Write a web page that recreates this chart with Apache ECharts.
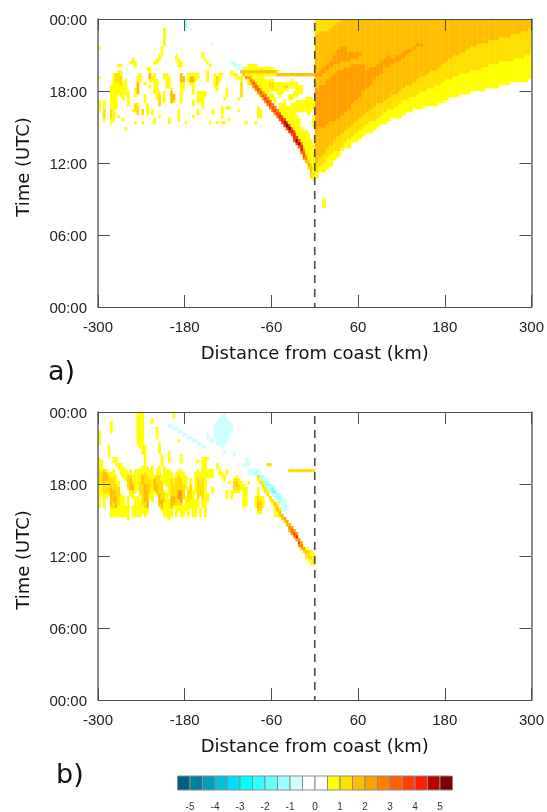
<!DOCTYPE html>
<html><head><meta charset="utf-8">
<style>html,body{margin:0;padding:0;background:#fff}#c{width:547px;height:812px}</style>
<script src="https://cdn.jsdelivr.net/npm/echarts@6/dist/echarts.min.js"></script></head>
<body><div id="c"></div>
<script>
const legendValues=[-5.25,-4.75,-4.25,-3.75,-3.25,-2.75,-2.25,-1.75,-1.25,-0.75,-0.25,0.25,0.75,1.25,1.75,2.25,2.75,3.25,3.75,4.25,4.75,5.25];
const legendColors=['#005f83','#007fa3','#009fbf','#00bfdf','#00dfff','#00ffff','#33ffff','#66ffff','#99ffff','#ccffff','#ffffff','#ffffff','#ffff00','#ffdf00','#ffbf00','#ff9f00','#ff7f00','#ff5f00','#ff3f00','#ff1f00','#bf0000','#7f0000'];

// Panel a, land side: onset time (h) of each level, one per 5 km column from 0 to 295 km
const aOnset075=[10.75,11.25,11.25,11.5,11.75,12.25,12.5,13,13.25,13.25,13.75,13.75,14,14.25,14.5,14.5,14.75,15,15.25,15.25,15.5,15.75,15.75,15.75,16,16.25,16.25,16.5,16.5,16.5,16.75,16.75,16.75,16.75,17,17,17.25,17.5,17.5,17.5,17.75,17.75,17.75,18,18,18,18,18.25,18.25,18.25,18.25,18.5,18.5,18.5,18.75,18.75,18.75,18.75,18.75,19];
const aOnset125=[11.25,11.75,12,12.5,12.75,13,13,13.25,13.75,14,14.25,14.5,14.75,15,15.25,15.5,15.5,15.75,16,16.25,16.5,16.5,16.75,17,17.25,17.25,17.5,17.5,17.75,18,18,18.25,18.25,18.5,18.5,18.75,19,19,19.25,19.25,19.5,19.5,19.5,19.75,19.75,19.75,20,20,20.25,20.25,20.25,20.5,20.5,20.5,20.5,20.75,20.75,20.75,21,21];
const aOnset175=[12,12.5,12.75,13.25,13.5,14,14.25,14.5,14.75,15,15.25,15.5,15.75,16,16.25,16.5,16.75,17,17,17.25,17.5,17.75,17.75,18,18.25,18.5,18.5,18.75,19,19.25,19.25,19.5,19.75,19.75,20,20.25,20.5,20.75,21,21,21.25,21.25,21.5,21.75,21.75,22,22,22,22.25,22.25,22.25,22.5,22.5,22.5,22.75,22.75,22.75,23,23,23.25];
// land runs: [km, t start, t end]
const aEastGold=[[0,22.75,24],[5,23,24],[10,23,24],[15,23,24],[20,23.25,24],[25,23.5,24],[30,23.75,24]];
const aEastOrange=[[0,14.75,18.25],[5,15,18.5],[10,15,18.5],[15,15.25,19],[20,15.5,19.25],[25,15.5,19.5],[30,15.75,19.75],[35,16,19.75],[40,16.25,20],[45,16.5,20],[50,17,20.25],[55,17.25,20.25],[60,17.5,20.25],[65,18,20.25],[70,18.25,19.75],[75,18.5,20],[80,19,20],[85,19.25,20.25],[90,19.5,20.5],[95,20,20.75],[100,20,21],[105,20.25,20.75],[110,20.5,21],[115,20.5,21],[120,20.75,21.25],[125,21,21.5],[130,21.25,21.5],[135,21.5,21.75],[140,21.75,22],[145,21.75,22],
 [0,19.25,19.5],[5,19.25,19.75],[10,19.5,20],[15,19.75,20.25],[20,20,20.5],[25,20.25,21],[30,20.25,21.5],[35,20.5,21.75],[40,20.5,21.75],[45,20.5,21.25],[50,20.75,21.25],[55,20.75,21.25],[60,21,21.25]];
const aEastSpeck=[[10,8.25,9]];

// Sea side runs: [column k of 10/3 km from -300 km, t start, t end]
const aSea075=[[0,16.25,17.25],[0,21.5,21.75],[0,19,19.25],[2,15.75,17.25],[2,15.5,15.75],[5,15.25,18.5],[6,15.5,19.5],[7,16.5,19.5],[8,17.75,19.75],[8,15.75,16],[8,20,20.25],[9,17.5,19.75],[9,20,20.25],[10,17.25,18.75],[10,15.5,15.75],[11,17.75,19],[11,14.75,15],[12,16.75,18],[13,20.25,20.5],[14,16.25,16.5],[14,20.25,20.75],[15,17.5,18.25],[15,15.25,15.5],[15,20,20.5],[16,17.75,19.25],[16,16,17],[17,18.75,19.5],[18,16,16.5],[18,15.25,15.5],[19,17,17.75],[19,18.5,18.75],[20,16,17],[20,19.75,20],[21,18.75,20],[21,18.25,18.5],[22,18.75,19.25],[22,16,16.5],[23,17.75,19.5],[23,15.25,15.75],[23,20.25,20.5],[24,17.25,19],[24,20.25,20.75],[25,16.75,18],[25,15.75,16],[25,20.5,21],[26,21,21.75],[27,17,18],[27,19,19.5],[27,21.75,23.25],[28,18.25,19.5],[29,18.25,19.25],[29,15.25,15.75],[30,17.25,18.25],[31,17,17.75],[32,20.5,21],[33,20,20.75],[33,15.5,16.5],[34,17,19.5],[34,20,20.5],[35,18,19.25],[36,15.25,15.5],[37,18.75,19.5],[38,18.5,19.5],[39,17.75,19.5],[39,16.75,17.25],[39,15.75,16],[40,18.75,19.5],[41,17,18],[41,19,19.5],[41,16,16.5],[42,17,18],[43,16.5,18],[43,20.75,21.25],[44,17.5,18],[44,20.5,20.75],[45,18.75,19.75],[45,20.25,20.5],[46,15.25,15.5],[46,20,20.25],[47,16,16.5],[48,18.25,19.5],[49,18,19.25],[49,15.25,15.5],[50,18.75,19.5],[51,15.75,16.75],[51,15.25,15.5],[51,19.25,19.5],[52,17.25,17.5],[52,15.25,15.5],[53,17.5,18.25],[53,16.5,16.75],[54,16.5,16.75],[54,15.5,15.75],[55,19.25,19.75],[56,19.25,19.5],[57,19,19.5],[58,17.25,17.5],[58,16.25,16.5],[58,19,19.25],[59,17.5,19.25],[61,15.25,15.5],[65,15.25,15.5],[66,15.75,16.75],[67,15.75,16.5]];
const aFan075=[[60,19.25,20],[61,19.25,20],[62,18.5,20.25],[63,18.75,20.25],[64,18.75,20.25],[65,18.5,20.25],[66,18.25,20],[67,18,20],[68,18,20],[69,17.75,19],[69,19.25,20],[70,17.5,19],[70,19.25,20],[71,18,19],[71,19.25,20],[71,17.25,17.75],[72,18,19],[72,19.25,20],[72,17.25,17.75],[73,18,18.75],[73,19.25,19.75],[73,17,17.5],[74,17.75,18.75],[74,19.25,19.75],[75,17.5,18.75],[75,16,17],[76,17.75,18.75],[76,15.75,17],[77,18,18.75],[77,15.5,17.25],[78,18,18.75],[78,15.25,16.75],[79,18.25,18.75],[79,17.25,17.75],[79,15,16.75],[80,18.25,19],[80,17.25,17.75],[80,14.75,17],[81,18.25,18.75],[81,17.5,18],[81,16.25,17],[81,14.5,16.25],[82,18.25,18.75],[82,17.5,18.25],[82,16.25,17.25],[82,14.25,16],[83,17.75,18.5],[83,16.25,17.25],[83,14,15.75],[84,17.75,18.5],[84,16.25,17.25],[84,13.5,15],[85,16.25,17.25],[85,12.75,14.75],[86,16.25,17.5],[86,12.25,14.75],[87,16,17.5],[87,11.75,14.5],[88,16.25,17.5],[88,11.25,14],[89,16.5,17.25],[89,15,16],[89,10.5,13.5]];
const aSea125=[[2,15.75,16.5],[5,15.75,16.5],[7,18.75,19.5],[8,18.75,19.5],[9,18.5,19.25],[15,16.25,17],[16,16,16.75],[18,16,16.5],[25,16.75,17.75],[49,18.5,19.25],[59,17.5,18.75],[71,18.25,18.75],[72,18.25,18.75],[77,18.25,18.5],[78,18.25,18.5]];
const aSea175=[[16,17.75,18.75],[21,19,19.5],[30,17,18],[31,17.25,17.75],[34,18.75,19.5],[35,18.75,19.25],[38,18.75,19.25],[39,18.75,19.25]];
const aBand175=[[60,19.5,19.75],[61,19.5,19.75],[62,19.5,19.75],[63,19.5,19.75],[64,19.5,19.75],[65,19.5,19.75],[66,19.5,19.75],[67,19.5,19.75],[68,19.5,19.75],[69,19.5,19.75],[70,19.5,19.75],[71,19.5,19.75],[72,19.5,19.75],[73,19.5,19.75],[74,19.25,19.5],[75,19.25,19.5],[76,19.25,19.5],[77,19.25,19.5],[78,19.25,19.5],[79,19.25,19.5],[80,19.25,19.5],[81,19.25,19.5],[82,19.25,19.5],[83,19.25,19.5],[84,19.25,19.5],[85,19.25,19.5],[86,19.25,19.5],[87,19.25,19.5],[88,19.25,19.5],[89,19.25,19.5]];
// [k, t start, t end, value]
const aFrontHalo=[[63,18.5,19.25,1.75],[64,18.25,19,2.25],[65,18,18.75,2.25],[66,17.75,18.5,2.25],[67,17.5,18.25,2.25],[68,17.25,18,2.25],[69,17,17.75,2.75],[70,16.75,17.5,2.75],[71,16.5,17.25,2.75],[72,16.25,17,2.75],[73,16,16.75,2.75],[74,15.75,16.5,2.75],[75,15.5,16.25,3.25],[76,15.25,16,3.25],[77,15,15.75,3.75],[78,14.75,15.5,3.75],[79,14.5,15.25,3.75],[80,14.25,15,3.25],[81,13.75,14.75,3.25],[82,13.5,14.25,3.75],[83,13.25,14,3.25],[84,12.75,13.75,2.75],[85,12.25,13.25,2.25],[86,12,12.75,1.75],[87,11.5,12.25,1.25],[88,10.75,12,1.25],[89,10.75,11.5,0.75]];
const aFrontCore=[[59,19.5,19.75,1.75],[60,19.25,19.5,1.75],[61,19,19.25,2.25],[62,19,19.25,2.25],[63,18.75,19,2.75],[64,18.5,18.75,3.25],[65,18.25,18.5,3.25],[66,18,18.25,3.25],[67,17.75,18,3.25],[68,17.5,17.75,3.25],[69,17.25,17.5,3.75],[70,17,17.25,3.75],[71,16.75,17,3.75],[72,16.5,16.75,3.75],[73,16.25,16.5,3.75],[74,16,16.25,3.75],[75,15.75,16,4.25],[76,15.5,15.75,4.25],[77,15.25,15.5,4.75],[78,15,15.25,5.25],[79,14.75,15,5.25],[80,14.5,14.75,4.25],[81,14,14.5,4.25],[82,13.75,14,5.25],[83,13.5,13.75,4.75],[84,13,13.5,4.25],[85,12.5,13,3.25],[86,12.25,12.5,2.75],[87,11.75,12,2.25],[88,11.25,11.75,1.75],[89,11,11.25,1.25]];
const aCyan=[[36,23.25,24,-1.25],[35,23.75,24,-0.75],[38,23,23.25,-0.75],[47,21.75,22,-0.75],[55,20.25,20.5,-0.75],[56,20,20.5,-0.75],[57,20,20.25,-0.75],[58,19.75,20.25,-0.75],[59,19.75,20,-0.75]];

// Panel b
const bSea075=[[0,21.25,22.5],[0,16,20.25],[1,17,20],[2,16,19.25],[3,16.75,19.25],[4,20.25,21.25],[4,17,19],[5,22.25,23.25],[5,15.25,19],[6,15.25,19.25],[6,19.75,20.25],[7,15.25,18.75],[7,19.5,20.25],[8,15.25,18.25],[8,19.25,19.75],[9,15.25,17.25],[9,18.75,19.75],[10,15.25,17],[10,18.5,19.5],[11,15.25,16.25],[11,18.25,19.25],[12,17.5,19],[12,15,17],[13,17,19.25],[14,16.75,18.75],[14,15.25,16.25],[15,17.25,19.25],[15,15.25,17],[16,21.25,24],[16,17.5,19.25],[16,15.25,17],[17,21,24],[17,17,19.25],[17,15.25,16.75],[18,20.5,24],[18,15.5,19.5],[19,19.5,21.25],[19,15.25,19.5],[20,15.5,19.5],[21,16.75,19.25],[22,23,23.5],[22,16.5,19.5],[23,17.25,18.75],[24,21.75,22.75],[24,17,19.25],[25,20.5,21.5],[25,16,19.5],[26,19.5,20.5],[26,15.75,18.75],[27,18,19.5],[27,15.25,17.5],[28,17.75,19.25],[28,15.25,17.25],[29,19.75,20.75],[29,17,19.25],[29,15,16.75],[30,16.5,19],[30,15.25,16.25],[31,23.5,24],[31,16,18.5],[32,15.25,19],[33,21.5,21.75],[33,15.75,19.25],[34,19.75,20.5],[34,15.25,19.25],[35,16.75,19],[35,15.25,16.25],[36,17.5,18.75],[36,15.75,17],[37,15.25,17.75],[38,16,18.5],[39,15.25,17.5],[40,17.25,19],[40,15.25,16.75],[41,19.75,20],[41,16,19.25],[42,17,19],[42,15.25,16],[43,16,19.75],[43,19.75,20.25],[44,15.25,20.25],
 [45,16.5,17.25],[45,18.5,19.25],[45,20,20.25],[46,18.5,19.25],[47,17.25,17.75],[47,18.5,19.25],[49,19.25,19.75],[50,18.75,19.25],[51,18.5,19],[52,18.25,18.75],[53,18.75,19.25],[53,16.75,17.5],[54,18,18.25],[55,16.75,17.5],[56,17.25,18.5],[57,17.25,18.75],[58,17.25,18.5],[59,17.5,18.25],[60,16,18],[61,16.25,17.75],[62,18,18.25],[65,16,17],[66,15.5,17.75],[67,15.5,17],[68,16,17],[73,15.25,16.5],[74,15.25,16.5],[85,12.5,12.75],[86,11.75,12.75],[87,11.5,12.5],[88,11.25,12.5],[89,11.25,12.25]];
const bSea125=[[0,18,19.25],[1,18,19],[2,17.25,19.25],[3,17.25,19],[4,17.25,18.75],[5,16,18.5],[6,16,18.5],[7,16.25,18],[8,16.25,17.75],[12,17.75,18.75],[13,17.5,18.75],[14,17.25,18.25],[17,17.25,18.25],[18,16.25,18.75],[19,16,19],[20,16,18.75],[21,17.25,18.5],[24,17.5,18.75],[25,16.5,18.75],[26,16.25,18.25],[27,16.5,17.25],[30,16.5,18.5],[31,16.5,18],[32,16.25,18.5],[33,16.25,18.75],[34,16.25,18.5],[35,16.75,18],[37,16.5,17.5],[38,16.75,18],[41,16.75,18.5],[42,17,18.25],[43,16.75,18.5],[56,17.5,18.25],[57,17.5,18.5],[58,17.5,18],[66,15.75,17],[67,15.75,16.75],[70,19.5,19.75],[71,19.5,19.75],[79,19,19.25],[80,19,19.25],[81,19,19.25],[82,19,19.25],[83,19,19.25],[84,19,19.25],[85,19,19.25],[86,19,19.25],[87,19,19.25],[88,19,19.25],[89,19,19.25]];
const bSea175=[[2,18.25,19],[3,18.25,19],[5,16.25,17.75],[6,16.5,17.5],[7,16,17],[13,17.5,18.5],[14,17.5,18],[18,18,18.75],[19,16.5,18],[20,16,18],[23,17.5,18.5],[24,17.25,18],[25,16.25,17.25],[26,16,16.75],[30,16,17],[31,16.25,17],[57,17.75,18.25],[66,16,16.5],[67,16.25,16.5]];
const bSea225=[[33,16.75,17.5],[34,16.5,17.5]];
const bFrontHalo=[[66,18.25,18.75,0.75],[67,18,18.5,0.75],[68,17.5,18.25,0.75],[69,17.25,17.75,1.25],[70,17,17.5,0.75],[71,16.5,17,0.75],[72,16.25,16.75,0.75],[73,16,16.5,1.25],[74,15.75,16.25,1.25],[75,15.25,16,1.25],[76,15,15.5,1.25],[77,14.75,15.25,1.25],[78,14.5,15,1.75],[79,14,14.75,1.75],[80,13.75,14.5,2.25],[81,13.5,14.25,2.25],[82,13.25,14,2.25],[83,12.75,13.5,2.25],[84,12.5,13.25,1.75],[85,12.25,12.75,1.25],[86,12,12.5,1.25],[87,11.75,12.5,1.25]];
const bFrontCore=[[66,18.5,18.75,1.25],[67,18,18.25,1.25],[68,17.75,18,1.25],[69,17.5,17.75,1.25],[70,17,17.25,1.25],[71,16.75,17,1.25],[72,16.5,16.75,1.25],[73,16.25,16.5,1.75],[74,15.75,16,1.75],[75,15.5,15.75,1.75],[76,15.25,15.5,1.75],[77,15,15.25,2.25],[78,14.75,15,2.25],[79,14.25,14.5,2.75],[80,14,14.25,3.25],[81,13.75,14,3.75],[82,13.5,13.75,4.25],[83,13,13.25,3.75],[84,12.75,13,2.75],[85,12.5,12.75,2.25],[86,12.25,12.5,1.75],[87,12,12.25,1.25],[88,11.75,12,1.25],[89,11.5,11.75,1.25]];
const bCyan075=[[48,21.75,23],[49,21.25,23.25],[50,21.25,23.5],[51,21,23.75],[52,21.25,24],[53,21.5,23.5],[54,22,23.25],[55,22.25,23],[29,22.75,23],[30,22.75,23],[31,22.5,22.75],[32,22.5,22.75],[33,22.25,22.5],[34,22.25,22.5],[35,22,22.25],[36,22,22.25],[37,21.75,22],[38,21.75,22],[39,21.5,21.75],[40,21.5,21.75],[41,21.25,21.5],[42,21.25,21.5],[43,21,21.25],[44,21,21.25],[45,21.75,22.25],[46,21.5,21.75],[47,21.5,21.75],[52,20.5,20.75],[56,20.5,20.75],[56,20.25,20.5],[60,19.5,19.75],[61,19.5,20.25],[62,18.75,19.25],[62,19.5,20],[63,18.75,19.25],[64,18.75,19.25],[65,18.75,19.25],[66,18.5,19.25],[67,18.25,19],[68,18,18.75],[69,17.75,18.5],[70,17.5,18.5],[71,17.25,18],[72,17,18],[73,16.75,17.75],[74,16.75,17.5],[75,16.25,17.25],[76,16,17],[77,15.75,16.75],[78,15.75,16.25]];
const bCyan125=[[65,18.75,19],[67,18.5,18.75],[69,17.75,18.25],[70,17.75,18.25],[71,17.5,18],[74,16.75,17.25],[75,16.5,17]];
const bCyan175=[[66,18.5,18.75],[72,17.25,17.75],[73,17.25,17.5]];

const colKm=k=>-300+k*10/3, colW=10/3;
function colorOf(v){const i=Math.floor((v+5.5)/0.5);return legendColors[Math.max(0,Math.min(21,i))];}
function paint(grid,runs,v,isKm){runs.forEach(r=>{const val=v===undefined?r[3]:v;const x=isKm?r[0]:colKm(r[0]);const w=isKm?5:colW;for(let t=r[1];t<r[2];t+=0.25){grid.set(x+'|'+t,[x,t,val,w]);}});}
function onsetRuns(a){return a.map((t,i)=>[i*5,t,24]);}
function cells(grid){return Array.from(grid.values());}
const gridA=new Map();
paint(gridA,onsetRuns(aOnset075),0.75,true);paint(gridA,onsetRuns(aOnset125),1.25,true);paint(gridA,onsetRuns(aOnset175),1.75,true);
paint(gridA,aEastGold,1.25,true);paint(gridA,aEastOrange,2.25,true);paint(gridA,aEastSpeck,0.75,true);
paint(gridA,aSea075,0.75);paint(gridA,aFan075,0.75);paint(gridA,aSea125,1.25);paint(gridA,aSea175,1.75);paint(gridA,aBand175,1.75);
paint(gridA,aFrontHalo);paint(gridA,aFrontCore);paint(gridA,aCyan);
const gridB=new Map();
paint(gridB,bSea075,0.75);paint(gridB,bSea125,1.25);paint(gridB,bSea175,1.75);paint(gridB,bSea225,2.25);
paint(gridB,bCyan075,-0.75);paint(gridB,bCyan125,-1.25);paint(gridB,bCyan175,-1.75);
paint(gridB,bFrontHalo);paint(gridB,bFrontCore);

function renderCell(p,api){
  const x=api.value(0),t=api.value(1),v=api.value(2),w=api.value(3);
  const a=api.coord([x,t+0.25]),b=api.coord([x+w,t]);
  return {type:'rect',shape:{x:a[0],y:a[1],width:b[0]-a[0]+0.3,height:b[1]-a[1]+0.3},style:{fill:colorOf(v)}};
}
function renderLegend(p,api){
  const v=api.value(0);
  const a=api.coord([v-0.25,1]),b=api.coord([v+0.25,0]);
  return {type:'rect',shape:{x:a[0],y:a[1],width:b[0]-a[0],height:b[1]-a[1]},style:{fill:colorOf(v),stroke:'#8c8c8c',lineWidth:1}};
}
const F='"Liberation Sans",Arial,sans-serif', T='"DejaVu Sans",sans-serif';
const line={show:true,onZero:false,lineStyle:{color:'#4d4d4d',width:1}};
const lineV={show:true,onZero:false,lineStyle:{color:'#6e6e6e',width:1.6}};
const tick={show:true,inside:true,length:12,lineStyle:{color:'#4d4d4d'}};
const hh=v=>String(v%24).padStart(2,'0')+':00';
function pair(gi){
 return {
  xs:[{type:'value',gridIndex:gi,min:-300,max:300,interval:120,position:'bottom',z:10,axisLine:line,axisTick:tick,splitLine:{show:false},
       axisLabel:{color:'#222',fontFamily:F,fontSize:15,margin:13},name:'Distance from coast (km)',nameLocation:'middle',nameGap:38,nameTextStyle:{color:'#111',fontFamily:T,fontSize:18}},
      {type:'value',gridIndex:gi,min:-300,max:300,interval:120,position:'top',z:10,axisLine:line,axisTick:tick,axisLabel:{show:false},splitLine:{show:false}}],
  ys:[{type:'value',gridIndex:gi,min:0,max:24,interval:6,position:'left',z:10,axisLine:lineV,axisTick:tick,splitLine:{show:false},
       axisLabel:{color:'#222',fontFamily:F,fontSize:15,margin:11,verticalAlign:'top',lineHeight:4,formatter:hh},name:'Time (UTC)',nameLocation:'middle',nameGap:65,nameTextStyle:{color:'#111',fontFamily:T,fontSize:18,padding:[0,8,0,0]}},
      {type:'value',gridIndex:gi,min:0,max:24,interval:6,position:'right',z:10,axisLine:lineV,axisTick:tick,axisLabel:{show:false},splitLine:{show:false}}]
 };
}
const pa=pair(0),pb=pair(1);
const dash={color:'#4a4a4a',width:1.6,type:[8,6],dashOffset:4};
const opt={animation:false,backgroundColor:'#fff',
 grid:[{left:98,top:19,width:434,height:288},{left:98,top:412,width:434,height:288},{left:177.5,top:776,width:275,height:15}],
 xAxis:[...pa.xs,...pb.xs,{type:'value',gridIndex:2,min:-5.5,max:5.5,interval:0.5,axisLine:{show:false},axisTick:{show:false},splitLine:{show:false},
   axisLabel:{color:'#333',fontFamily:F,fontSize:10,margin:12,hideOverlap:false,formatter:v=>Number.isInteger(v)?String(v):''}}],
 yAxis:[...pa.ys,...pb.ys,{type:'value',gridIndex:2,min:0,max:1,show:false}],
 graphic:[{type:'text',left:48,top:359,style:{text:'a)',font:'27px "DejaVu Sans"',fill:'#111'}},
          {type:'text',left:56,top:762,style:{text:'b)',font:'27px "DejaVu Sans"',fill:'#111'}}],
 series:[
  {type:'custom',xAxisIndex:0,yAxisIndex:0,data:cells(gridA),renderItem:renderCell,progressive:0,silent:true,z:2},
  {type:'custom',xAxisIndex:2,yAxisIndex:2,data:cells(gridB),renderItem:renderCell,progressive:0,silent:true,z:2},
  {type:'line',xAxisIndex:0,yAxisIndex:0,data:[[0,0],[0,24]],symbol:'none',silent:true,z:5,lineStyle:dash},
  {type:'line',xAxisIndex:2,yAxisIndex:2,data:[[0,0],[0,24]],symbol:'none',silent:true,z:5,lineStyle:dash},
  {type:'custom',xAxisIndex:4,yAxisIndex:4,data:legendValues.map(v=>[v]),encode:{x:0},renderItem:renderLegend,progressive:0,silent:true}
 ]};
const chart=echarts.init(document.getElementById('c'),null,{renderer:'canvas'});
chart.setOption(opt);
</script></body></html>
